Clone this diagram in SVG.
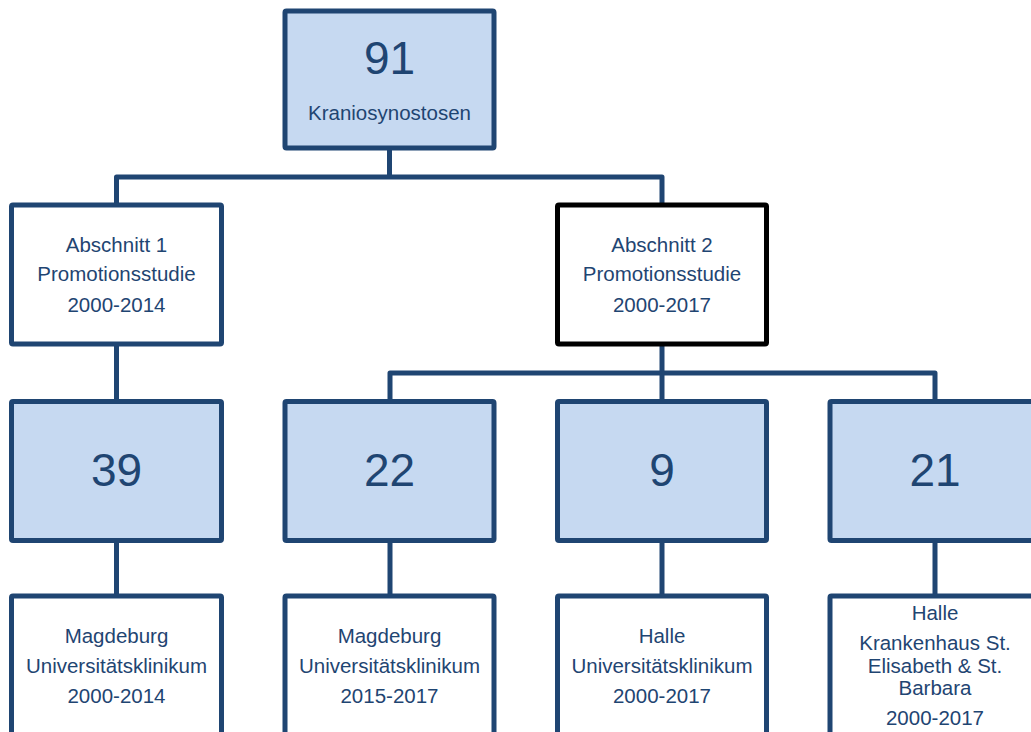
<svg xmlns="http://www.w3.org/2000/svg" width="1031" height="732" viewBox="0 0 1031 732">
<style>
.b{fill:#ffffff;stroke:#1F4572;stroke-width:5}
.f{fill:#C6D9F1;stroke:#1F4572;stroke-width:5}
.k{fill:#ffffff;stroke:#000000;stroke-width:5}
.c{fill:none;stroke:#1F4572;stroke-width:5;stroke-linejoin:round}
text{font-family:"Liberation Sans",Arial,sans-serif;fill:#1F4572;text-anchor:middle}
.s{font-size:20.5px}
.n{font-size:46px}
</style>
<rect width="1031" height="732" fill="#ffffff"/>
<g id="connectors">
<path class="c" d="M389.5 148V177M116.5 205V177H662V205"/>
<path class="c" d="M116.5 344V401"/>
<path class="c" d="M662 344V373M390 401V373H935V401M662 373V401"/>
<path class="c" d="M116.5 541V596M390 541V596M662 541V596M935 541V596"/>
</g>
<g id="n91">
<rect class="f" x="285" y="11" width="209" height="137" rx="1.5"/>
<text class="n" x="389.5" y="74">91</text>
<text class="s" x="389.5" y="120">Kraniosynostosen</text>
</g>
<g id="a1">
<rect class="b" x="11.5" y="205" width="210" height="139" rx="1.5"/>
<text class="s" x="116.5" y="252">Abschnitt 1</text>
<text class="s" x="116.5" y="281">Promotionsstudie</text>
<text class="s" x="116.5" y="312">2000-2014</text>
</g>
<g id="a2">
<rect class="k" x="557.5" y="205" width="209" height="139" rx="1.5"/>
<text class="s" x="662" y="252">Abschnitt 2</text>
<text class="s" x="662" y="281">Promotionsstudie</text>
<text class="s" x="662" y="312">2000-2017</text>
</g>
<g id="n39">
<rect class="f" x="11.5" y="401.5" width="210" height="139" rx="1.5"/>
<text class="n" x="116.5" y="486">39</text>
</g>
<g id="n22">
<rect class="f" x="285" y="401.5" width="209" height="139" rx="1.5"/>
<text class="n" x="389.5" y="486">22</text>
</g>
<g id="n9">
<rect class="f" x="557.5" y="401.5" width="209" height="139" rx="1.5"/>
<text class="n" x="662" y="486">9</text>
</g>
<g id="n21">
<rect class="f" x="830" y="401.5" width="210" height="139" rx="1.5"/>
<text class="n" x="935" y="486">21</text>
</g>
<g id="m1">
<rect class="b" x="11.5" y="596" width="210" height="150" rx="1.5"/>
<text class="s" x="116.5" y="643">Magdeburg</text>
<text class="s" x="116.5" y="673">Universitätsklinikum</text>
<text class="s" x="116.5" y="703">2000-2014</text>
</g>
<g id="m2">
<rect class="b" x="285" y="596" width="209" height="150" rx="1.5"/>
<text class="s" x="389.5" y="643">Magdeburg</text>
<text class="s" x="389.5" y="673">Universitätsklinikum</text>
<text class="s" x="389.5" y="703">2015-2017</text>
</g>
<g id="h1">
<rect class="b" x="557.5" y="596" width="209" height="150" rx="1.5"/>
<text class="s" x="662" y="643">Halle</text>
<text class="s" x="662" y="673">Universitätsklinikum</text>
<text class="s" x="662" y="703">2000-2017</text>
</g>
<g id="h2">
<rect class="b" x="830" y="596" width="210" height="150" rx="1.5"/>
<text class="s" x="935" y="620">Halle</text>
<text class="s" x="935" y="650">Krankenhaus St.</text>
<text class="s" x="935" y="672.5">Elisabeth &amp; St.</text>
<text class="s" x="935" y="695">Barbara</text>
<text class="s" x="935" y="725">2000-2017</text>
</g>
</svg>
